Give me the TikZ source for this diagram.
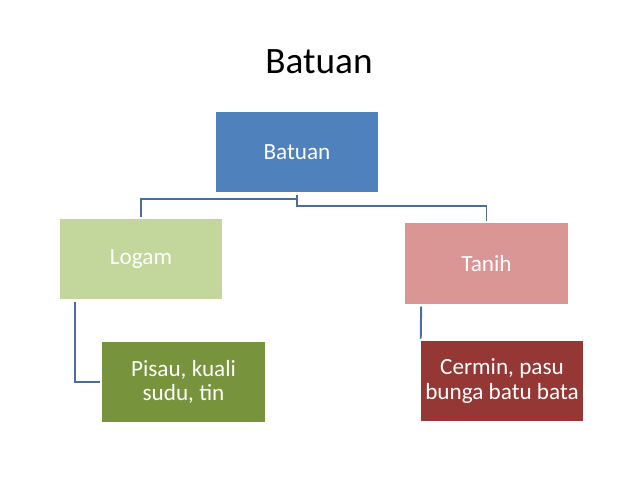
\documentclass[tikz,border=0pt]{standalone}
\usepackage{fontspec}
\setmainfont{Carlito}
\usetikzlibrary{positioning}
\definecolor{topblue}{HTML}{4F81BD}
\definecolor{palegreen}{HTML}{C3D69B}
\definecolor{olive}{HTML}{77933C}
\definecolor{rose}{HTML}{D99694}
\definecolor{brick}{HTML}{953735}
\definecolor{wire}{HTML}{4A6F9C}
\tikzset{
    box/.style={rectangle, minimum width=4.05cm, minimum height=2cm, inner sep=0,
                text=white, align=center, font=\fontsize{16.5}{17.5}\selectfont},
    link/.style={draw=wire, line width=1.4pt, shorten <=2pt, shorten >=1.5pt},
  }

\begin{document}
\begin{tikzpicture}[x=0.025cm, y=-0.025cm]
      \useasboundingbox (0,0) rectangle (638,479);
      \node (title) at (319,62) {\fontsize{26.5}{30}\selectfont Batuan};

      \node (top) [box, fill=topblue] at (297,152) {Batuan};
      \node (logam) [box, fill=palegreen] at (141,259) {Logam};
      \node (tanih) [box, fill=rose] at (486.5,263.5) {Tanih};
      \node (pisau) [box, fill=olive] at (183.5,382) {Pisau, kuali\\sudu, tin};
      \node (cermin) [box, fill=brick] at (502,381) {Cermin, pasu\\bunga batu bata};

      % connectors
      \draw[link] (top.south) -- ++(0,7) -| (logam.north);
      \draw[link] (top.south) -- ++(0,14) -| (tanih.north);
      \draw[link] ([xshift=0.375cm]logam.south west) |- (pisau.west);
      \draw[link] ([xshift=0.4cm]tanih.south west) -- (cermin.north west);
  \end{tikzpicture}
\end{document}
